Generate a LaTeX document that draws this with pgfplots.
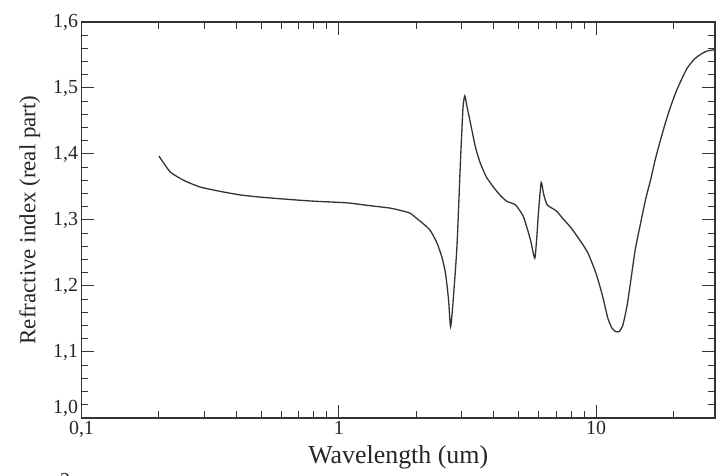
\documentclass[border=0pt]{standalone}
\usepackage{pgfplots}
\pgfplotsset{compat=1.18}
\usepackage{fontspec}
\setmainfont{Liberation Serif}
\usetikzlibrary{calc}

\pgfplotstableread{
x y
0.200 1.397
0.221 1.373
0.250 1.360
0.289 1.350
0.350 1.343
0.414 1.338
0.500 1.3345
0.648 1.331
0.800 1.3285
1.076 1.326
1.300 1.322
1.585 1.318
1.800 1.313
1.900 1.310
2.000 1.303
2.150 1.293
2.270 1.284
2.410 1.265
2.520 1.243
2.600 1.219
2.670 1.180
2.720 1.138
2.780 1.175
2.880 1.260
2.970 1.386
3.040 1.470
3.090 1.488
3.150 1.472
3.250 1.447
3.400 1.410
3.550 1.386
3.750 1.365
3.990 1.350
4.250 1.337
4.510 1.328
4.860 1.323
5.220 1.305
5.560 1.270
5.780 1.242
5.900 1.280
5.970 1.310
6.120 1.357
6.250 1.340
6.460 1.323
7.000 1.314
7.400 1.303
8.000 1.288
8.700 1.268
9.300 1.250
10.00 1.219
10.60 1.185
11.10 1.152
11.50 1.137
11.90 1.131
12.30 1.131
12.70 1.140
13.20 1.170
13.60 1.204
14.20 1.255
14.90 1.295
15.60 1.332
16.30 1.361
17.00 1.392
17.80 1.421
18.60 1.447
19.50 1.472
20.50 1.495
21.50 1.513
22.60 1.530
24.00 1.543
25.50 1.551
27.00 1.556
29.00 1.558
}\water

\begin{document}
\begin{tikzpicture}
\begin{axis}[
	name=ax,
	scale only axis,
	width=633.5bp, height=396bp,
	xmode=log,
	xmin=0.1, xmax=29,
	ymin=1.0, ymax=1.6,
	xtick={1,10}, xticklabels={1,10},
	extra x ticks={0.1}, extra x tick labels={0{,}1},
	minor xtick={0.2,0.3,0.4,0.5,0.6,0.7,0.8,0.9,2,3,4,5,6,7,8,9,20},
	ytick={1.1,1.2,1.3,1.4,1.5,1.6},
	extra y ticks={1.0},
	extra y tick style={yticklabel style={yshift=10bp}},
	minor ytick={1.02,1.04,1.06,1.08,1.12,1.14,1.16,1.18,1.22,1.24,1.26,1.28,1.32,1.34,1.36,1.38,1.42,1.44,1.46,1.48,1.52,1.54,1.56,1.58},
	/pgf/number format/use comma,
	/pgf/number format/fixed,
	/pgf/number format/fixed zerofill,
	/pgf/number format/precision=1,
	/pgf/number format/assume math mode=true,
	tick label style={font=\fontsize{20}{22}\selectfont, text=black!85},
	major tick length=13bp, minor tick length=7bp,
	every tick/.style={black!80, line width=1bp},
	axis line style={black!80, line width=1.3bp},
	xlabel={Wavelength (um)},
	ylabel={Refractive index (real part)},
	label style={text=black!85},
	xlabel style={font=\fontsize{26}{28}\selectfont, yshift=-1bp},
	ylabel style={font=\fontsize{23}{25}\selectfont, yshift=6bp},
]
\addplot[black!80, line width=1.3bp, smooth, tension=0.35] table {\water};
\end{axis}
\node[font=\fontsize{20}{20}\selectfont, text=black!85, anchor=north, inner sep=0pt] at ($(ax.south west)+(-16.5bp,-55bp)$) {2};
\pgfresetboundingbox
\path ($(ax.south west)+(-81.5bp,-58bp)$) rectangle ($(ax.north east)+(3bp,22bp)$);
\end{tikzpicture}
\end{document}
